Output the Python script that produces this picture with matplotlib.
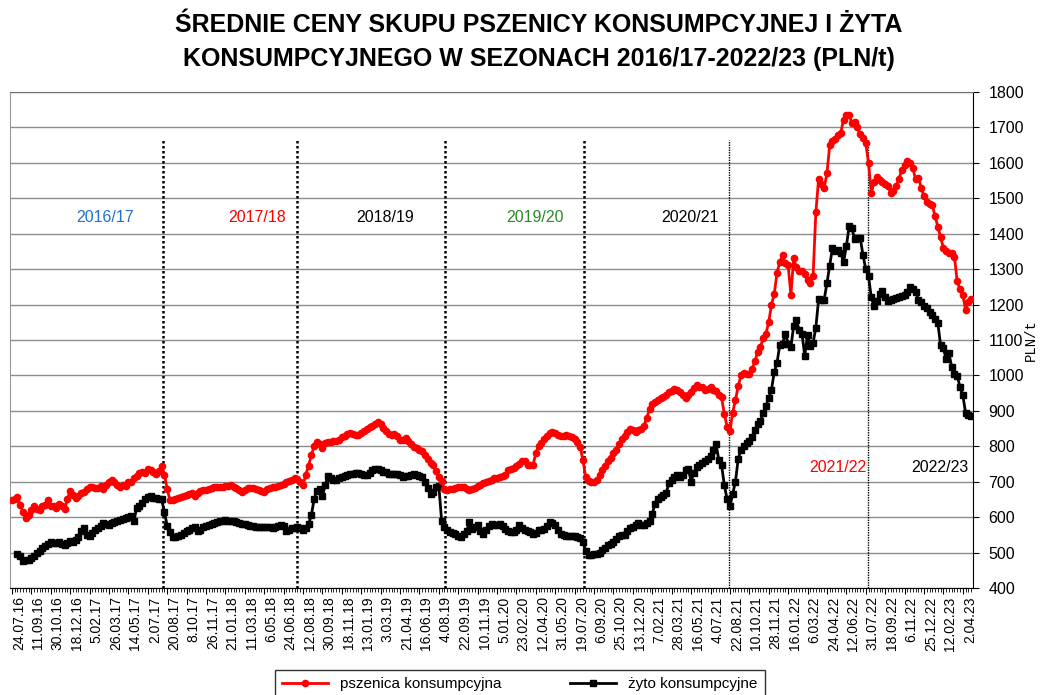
import numpy as np
import matplotlib
matplotlib.use("Agg")
import matplotlib.pyplot as plt
import matplotlib.transforms as mtransforms
from matplotlib.ticker import MultipleLocator

plt.rcParams['font.family'] = ['Liberation Sans', 'DejaVu Sans']

# weekly prices, PLN/t
pszenica = [
    648, 650, 657, 634, 615, 598, 605, 620, 630, 622,
    620, 630, 635, 648, 632, 630, 625, 638, 632, 622,
    650, 675, 662, 655, 660, 668, 670, 678, 685, 686,
    683, 682, 688, 678, 690, 700, 706, 698, 690, 686,
    690, 688, 698, 700, 710, 715, 725, 728, 724, 735,
    732, 728, 722, 730, 745, 720, 680, 648, 648, 652,
    655, 657, 660, 662, 665, 667, 660, 668, 675, 676,
    676, 678, 681, 684, 686, 686, 686, 687, 688, 690,
    686, 681, 676, 672, 677, 681, 682, 681, 678, 676,
    674, 672, 678, 681, 684, 686, 688, 690, 694, 698,
    702, 706, 709, 708, 700, 690, 720, 745, 775, 800,
    812, 805, 795, 808, 812, 812, 814, 815, 818, 826,
    830, 834, 836, 834, 831, 833, 836, 842, 850, 854,
    858, 862, 868, 862, 852, 842, 835, 831, 834, 830,
    818, 818, 822, 815, 805, 798, 794, 790, 786, 775,
    765, 752, 746, 730, 712, 702, 679, 676, 678, 680,
    682, 684, 686, 684, 680, 676, 680, 683, 688, 692,
    695, 698, 703, 706, 709, 711, 714, 716, 720, 732,
    736, 740, 745, 750, 758, 758, 748, 746, 748, 780,
    800, 810, 820, 828, 838, 840, 838, 832, 828, 828,
    832, 830, 826, 820, 812, 798, 760, 712, 702, 698,
    700, 705, 718, 733, 745, 758, 768, 780, 790, 805,
    820, 830, 840, 848, 845, 840, 845, 850, 858, 880,
    905, 920, 925, 930, 935, 940, 946, 952, 956, 962,
    958, 953, 945, 936, 945, 953, 965, 972, 968, 966,
    960, 962, 968, 958, 955, 945, 938, 890, 855, 842,
    895, 930, 970, 1000, 1008, 1005, 1005, 1018, 1040, 1065,
    1080, 1105, 1118, 1150, 1200, 1230, 1290, 1320, 1340, 1316,
    1312, 1227, 1330, 1305, 1294, 1294, 1285, 1268, 1262, 1280,
    1460, 1555, 1540, 1530, 1570, 1650, 1662, 1668, 1678, 1685,
    1722, 1736, 1735, 1712, 1716, 1700, 1680, 1670, 1655, 1600,
    1515, 1545, 1560, 1552, 1546, 1539, 1534, 1515, 1520, 1535,
    1555, 1580, 1595, 1605, 1600, 1585, 1553, 1558, 1530, 1505,
    1488, 1485, 1480, 1450, 1420, 1390, 1360, 1350, 1346, 1346,
    1335, 1265, 1243, 1228, 1185, 1208, 1216,
]

zyto = [
    np.nan, np.nan, 495, 490, 475, 478, 480, 485, 490, 498,
    505, 512, 518, 525, 530, 528, 527, 530, 525, 520,
    528, 532, 530, 535, 545, 560, 568, 550, 548, 556,
    565, 568, 575, 582, 580, 578, 582, 585, 588, 592,
    595, 598, 600, 602, 590, 625, 632, 640, 650, 658,
    660, 655, 655, 652, 650, 615, 575, 558, 545, 545,
    548, 550, 555, 560, 565, 570, 572, 560, 565, 572,
    575, 578, 580, 583, 586, 590, 590, 592, 590, 590,
    588, 585, 583, 581, 580, 578, 576, 574, 573, 573,
    572, 572, 573, 572, 570, 572, 575, 578, 575, 560,
    565, 568, 570, 572, 568, 563, 568, 580, 605, 650,
    675, 678, 660, 690, 716, 710, 704, 706, 709, 712,
    715, 718, 722, 722, 724, 725, 722, 718, 720, 725,
    733, 737, 735, 732, 728, 726, 723, 723, 723, 722,
    718, 714, 715, 716, 718, 721, 720, 717, 714, 700,
    682, 665, 672, 686, 688, 590, 573, 565, 558, 555,
    553, 548, 544, 552, 560, 585, 567, 572, 577, 560,
    553, 565, 575, 580, 577, 578, 581, 575, 567, 560,
    558, 558, 565, 577, 570, 563, 560, 558, 553, 555,
    563, 565, 567, 575, 586, 582, 577, 565, 553, 550,
    548, 548, 548, 546, 544, 542, 530, 505, 493, 492,
    495, 497, 500, 507, 513, 520, 525, 530, 538, 548,
    549, 550, 560, 568, 572, 578, 582, 578, 577, 582,
    588, 610, 638, 650, 657, 662, 668, 695, 704, 712,
    718, 713, 718, 732, 737, 700, 725, 742, 748, 752,
    758, 765, 772, 790, 805, 762, 746, 690, 650, 630,
    665, 700, 765, 790, 800, 808, 815, 825, 845, 862,
    870, 894, 915, 935, 960, 1010, 1035, 1087, 1090, 1118,
    1090, 1080, 1140, 1155, 1128, 1118, 1055, 1115, 1082, 1091,
    1135, 1215, 1214, 1214, 1260, 1310, 1360, 1352, 1355, 1345,
    1320, 1364, 1421, 1415, 1385, 1388, 1388, 1340, 1300, 1280,
    1220, 1195, 1210, 1230, 1238, 1220, 1210, 1213, 1215, 1218,
    1220, 1224, 1228, 1235, 1250, 1245, 1235, 1214, 1207, 1195,
    1191, 1180, 1170, 1158, 1148, 1085, 1078, 1045, 1062, 1025,
    1005, 998, 968, 945, 895, 888, 885,
]

tick_labels = [
    "24.07.16", "11.09.16", "30.10.16", "18.12.16", "5.02.17", "26.03.17",
    "14.05.17", "2.07.17", "20.08.17", "8.10.17", "26.11.17", "21.01.18",
    "11.03.18", "6.05.18", "24.06.18", "12.08.18", "30.09.18", "18.11.18",
    "13.01.19", "3.03.19", "21.04.19", "16.06.19", "4.08.19", "22.09.19",
    "10.11.19", "5.01.20", "23.02.20", "12.04.20", "31.05.20", "19.07.20",
    "6.09.20", "25.10.20", "13.12.20", "7.02.21", "28.03.21", "16.05.21",
    "4.07.21", "22.08.21", "10.10.21", "28.11.21", "16.01.22", "6.03.22",
    "24.04.22", "12.06.22", "31.07.22", "18.09.22", "6.11.22", "25.12.22",
    "12.02.23", "2.04.23",
]

seasons = ["2016/17", "2017/18", "2018/19", "2019/20", "2020/21", "2021/22", "2022/23"]
season_colors = ["#1f70d0", "#ff0000", "#000000", "#2a8a2a", "#000000", "#ff0000", "#000000"]
season_breaks = [54.5, 102.8, 156.2, 206.4, 258.7, 308.8]

x = np.arange(len(pszenica))

fig = plt.figure(figsize=(10.4, 6.95), dpi=100)
ax = fig.add_axes([0.0096, 0.154, 0.926, 0.7137])

ax.set_ylim(400, 1800)
ax.set_xlim(-0.7, len(pszenica) - 0.3)
ax.yaxis.set_major_locator(MultipleLocator(100))
ax.grid(axis='y', color='#8c8c8c', lw=1)
ax.set_axisbelow(True)

for i, b in enumerate(season_breaks):
    if i < 4:
        ax.vlines(b, 400, 1665, colors='black', linestyles=(0, (1, 1)), lw=1.8, zorder=2)
    else:
        ax.vlines(b, 400, 1665, colors='black', linestyles=(0, (1, 0.8)), lw=1.0, zorder=2)

ax.plot(x, pszenica, color='#ff0000', lw=2, marker='o', ms=4.5, zorder=4, label='pszenica konsumpcyjna')
ax.plot(x, zyto, color='black', lw=2, marker='s', ms=4.5, zorder=3, label='żyto konsumpcyjne')

label_pos = [(33.5, 1445), (88.4, 1445), (134.6, 1445), (188.7, 1445), (244.6, 1445), (298, 740), (334.8, 740)]
for s, c, (px, py) in zip(seasons, season_colors, label_pos):
    ax.text(px, py, s, color=c, fontsize=11.5, ha='center', va='center')

ax.yaxis.tick_right()
ax.tick_params(axis='y', direction='out', length=4, labelsize=11.5, pad=7)

# y-axis title on the far right, outside the tick labels
fig.text(1031 / 1040, 1 - 340 / 695, 'PLN/t', family='Liberation Mono', fontsize=10,
         rotation=90, ha='center', va='center')

ax.set_xticks(x[::7][:len(tick_labels)])
ax.set_xticklabels(tick_labels, rotation=90, fontsize=10)
ax.set_xticks(x, minor=True)
ax.tick_params(axis='x', which='major', direction='out', length=4, pad=2)
ax.tick_params(axis='x', which='minor', direction='out', length=3)
shift = mtransforms.ScaledTranslation(0.07, 0, fig.dpi_scale_trans)
for lab in ax.get_xticklabels():
    lab.set_transform(lab.get_transform() + shift)

ax.spines['left'].set_color('#9a9a9a')
ax.spines['top'].set_color('#707070')
ax.spines['right'].set_color('black')
ax.spines['bottom'].set_color('black')

fig.text(0.518, 0.982,
         "ŚREDNIE CENY SKUPU PSZENICY KONSUMPCYJNEJ I ŻYTA\nKONSUMPCYJNEGO W SEZONACH 2016/17-2022/23 (PLN/t)",
         ha='center', va='top', fontsize=18, fontweight='bold', linespacing=1.55)

leg = fig.legend(loc='upper center', bbox_to_anchor=(0.5, 0.036), ncol=2, fontsize=11,
                 frameon=True, fancybox=False, edgecolor='black', columnspacing=4.5,
                 handlelength=3, borderpad=0.45, borderaxespad=0)
leg.get_frame().set_linewidth(1)

fig.savefig('out.png', dpi=100)
